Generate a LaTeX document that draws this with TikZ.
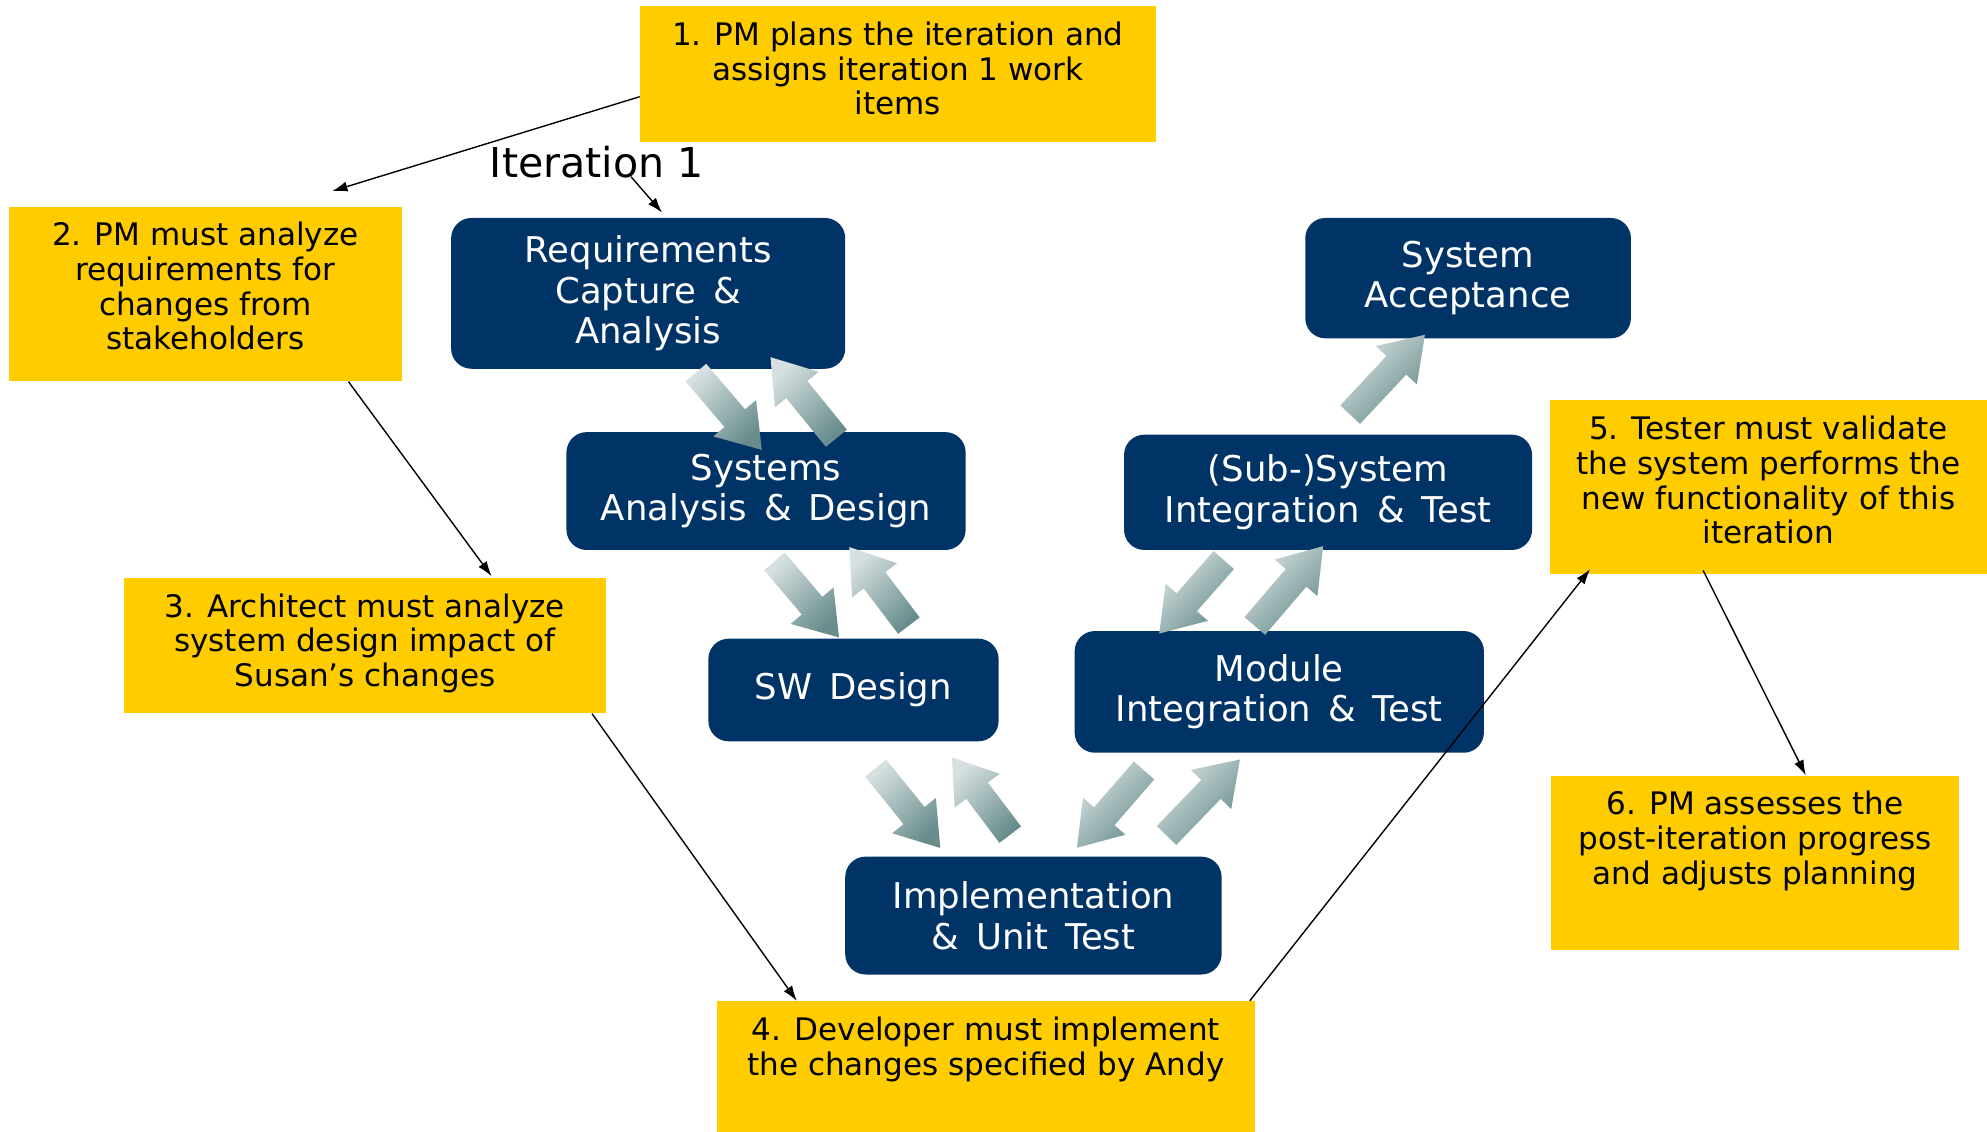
\documentclass[tikz,border=0pt]{standalone}
\usepackage{fontspec}
\setmainfont{DejaVu Sans}
\newfontfamily\phasefont[WordSpace=1.5]{DejaVu Sans}
\usetikzlibrary{shapes.arrows, calc, arrows.meta}

\definecolor{noteyellow}{RGB}{255,204,0}
\definecolor{phaseblue}{RGB}{0,51,102}
\definecolor{flowlight}{RGB}{214,224,224}
\definecolor{flowdark}{RGB}{104,140,140}

\tikzset{
  note/.style={fill=noteyellow, inner sep=0pt},
  notetext/.style={anchor=north, align=center, inner sep=0pt, font=\fontsize{24.5}{27.3}\selectfont},
  phase/.style={fill=phaseblue, rounded corners=16pt, text=white, align=center, inner sep=0pt,
    font=\phasefont\fontsize{28}{32}\selectfont},
  flow/.style={single arrow, single arrow head extend=11.5pt, single arrow tip angle=68,
    inner xsep=0pt, inner ysep=10.5pt,
    top color=flowlight, bottom color=flowdark, shading angle=45},
}

% block arrow from #1 to #2
\newcommand{\vflow}[2]{%
  \path let \p1=($(#2)-(#1)$), \n1={atan2(\y1,\x1)}, \n2={veclen(\x1,\y1)} in
    node[flow, minimum height=\n2, rotate=\n1] at ($(#1)!0.5!(#2)$) {};}

\begin{document}
\begin{tikzpicture}[x=1pt, y=-1pt, >={Latex[length=12pt,width=8pt]}]
    \useasboundingbox (0,0) rectangle (1568,893);

    % centres of the boxes
    \coordinate (C1) at (708.5,58.5);
    \coordinate (C2) at (162,232);
    \coordinate (C3) at (288,509.5);
    \coordinate (C4) at (778,842);
    \coordinate (C5) at (1395.5,384.5);
    \coordinate (C6) at (1385,681);

    % yellow notes
    \node[note, minimum width=407, minimum height=107] (n1) at (C1) {};
    \node[note, minimum width=310, minimum height=138] (n2) at (C2) {};
    \node[note, minimum width=380, minimum height=107] (n3) at (C3) {};
    \node[note, minimum width=424, minimum height=104] (n4) at (C4) {};
    \node[note, minimum width=345, minimum height=137] (n5) at (C5) {};
    \node[note, minimum width=322, minimum height=138] (n6) at (C6) {};

    \node[notetext] (t1) at ([yshift=-12.5pt]n1.north) {1. PM plans the iteration and\\assigns iteration 1 work\\items};
    \node[notetext] (t2) at ([yshift=-12.5pt]n2.north) {2. PM must analyze\\requirements for\\changes from\\stakeholders};
    \node[notetext] (t3) at ([yshift=-12.5pt]n3.north) {3. Architect must analyze\\system design impact of\\Susan’s changes};
    \node[notetext] (t4) at ([yshift=-12.5pt]n4.north) {4. Developer must implement\\the changes specified by Andy};
    \node[notetext] (t5) at ([yshift=-12.5pt]n5.north) {5. Tester must validate\\the system performs the\\new functionality of this\\iteration};
    \node[notetext] (t6) at ([yshift=-12.5pt]n6.north) {6. PM assesses the\\post-iteration progress\\and adjusts planning};

    % V-model phases
    \node[phase, minimum width=311, minimum height=119] (req) at (511.5,231.5) {Requirements\\Capture \&\\Analysis};
    \node[phase, minimum width=315, minimum height=93] (sad) at (604.5,387.5) {Systems\\Analysis \& Design};
    \node[phase, minimum width=229, minimum height=81] (swd) at (673.5,544.5) {SW Design};
    \node[phase, minimum width=297, minimum height=93] (imp) at (815.5,722.5) {Implementation\\\& Unit Test};
    \node[phase, minimum width=323, minimum height=96] (mod) at (1009.5,546) {Module\\Integration \& Test};
    \node[phase, minimum width=322, minimum height=91] (sub) at (1048,388.5) {(Sub-)System\\Integration \& Test};
    \node[phase, minimum width=257, minimum height=95] (acc) at (1158.5,219.5) {System\\Acceptance};

    \node[font=\fontsize{32.5}{38}\selectfont, inner sep=0pt] (iter) at (471,128) {Iteration 1};

    % block arrows between phases
    \vflow{544,288}{596,349}
    \vflow{665,352}{613,288}
    \vflow{606,437}{657,497}
    \vflow{722,500}{675,438}
    \vflow{686,600}{737,663}
    \vflow{802,665}{756,604}
    \vflow{908,602}{855,663}
    \vflow{915,665}{973,605}
    \vflow{971,436}{920,494}
    \vflow{985,500}{1039,437}
    \vflow{1060,333}{1119,270}

    % steps
    \draw[->, line width=1.1pt] (n1.185) -- ([shift={(-55,-12)}]n2.north east);
    \draw[->, line width=1.1pt] ([shift={(27,11.5)}]iter.center) -- ([shift={(11,-4)}]req.north);
    \draw[->, line width=1.1pt] ([xshift=113pt]n2.south) -- ([shift={(100,-1)}]n3.north);
    \draw[->, line width=1.1pt] ([xshift=-11pt]n3.south east) -- ([xshift=63pt]n4.north west);
    \draw[->, line width=1.1pt] ([xshift=-4pt]n4.north east) -- ([shift={(32,-4)}]n5.south west);
    \draw[->, line width=1.1pt] ([shift={(-51.5,-3)}]n5.south) -- ([xshift=40pt]n6.north);

\end{tikzpicture}
\end{document}
